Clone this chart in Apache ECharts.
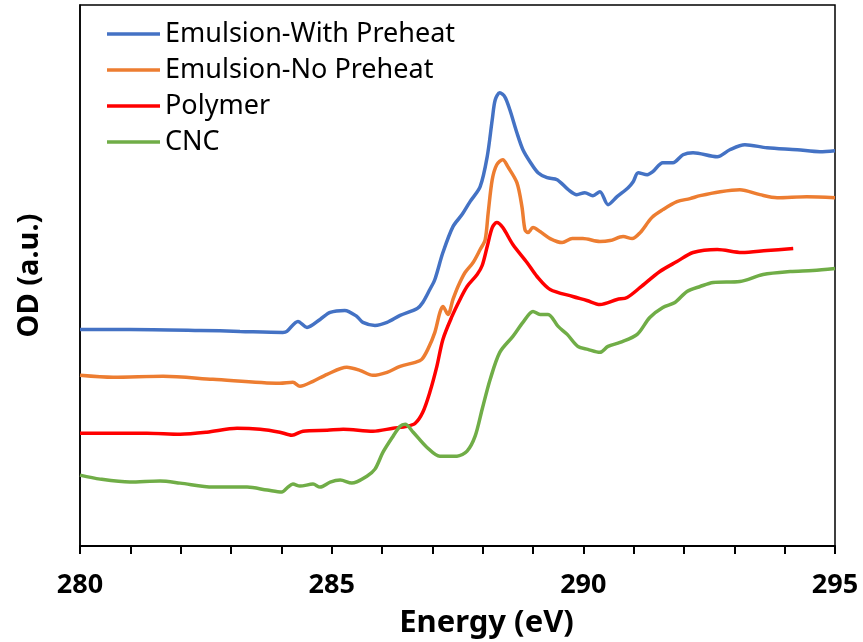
<!DOCTYPE html>
<html><head><meta charset="utf-8">
<script src="https://cdn.jsdelivr.net/npm/echarts@6/dist/echarts.min.js"></script>
<style>html,body{margin:0;padding:0;background:#fff}#c{width:863px;height:642px}</style>
</head><body><div id="c"></div>
<script>
const seriesNames = ['Emulsion-With Preheat', 'Emulsion-No Preheat', 'Polymer', 'CNC'];
const xTicks = [280, 285, 290, 295];

const withPreheat = [
[280.00,2.17],[280.99,2.17],[282.38,2.16],[283.18,2.15],[284.03,2.14],[284.11,2.15],[284.33,2.25],[284.51,2.19],
[284.77,2.27],[284.97,2.34],[285.26,2.36],[285.50,2.30],[285.62,2.24],[285.86,2.21],[286.10,2.24],[286.36,2.31],
[286.70,2.38],[286.81,2.44],[286.95,2.57],[287.05,2.67],[287.21,2.94],[287.41,3.20],[287.59,3.32],[287.75,3.45],
[287.95,3.60],[288.09,3.90],[288.19,4.27],[288.25,4.47],[288.34,4.54],[288.44,4.50],[288.54,4.37],[288.68,4.14],
[288.80,3.97],[288.94,3.85],[289.10,3.74],[289.28,3.69],[289.48,3.67],[289.70,3.57],[289.87,3.52],[290.03,3.54],
[290.19,3.51],[290.33,3.55],[290.49,3.42],[290.67,3.50],[290.89,3.59],[290.99,3.65],[291.09,3.74],[291.27,3.72],
[291.38,3.75],[291.58,3.84],[291.78,3.84],[291.98,3.92],[292.18,3.94],[292.66,3.90],[292.91,3.97],[293.21,4.02],
[293.65,3.99],[294.25,3.97],[294.70,3.95],[295.00,3.96]
];
const noPreheat = [
[280.00,1.71],[280.66,1.69],[281.65,1.70],[282.64,1.67],[283.97,1.63],[284.23,1.64],[284.37,1.60],[284.63,1.65],
[284.91,1.72],[285.30,1.79],[285.56,1.76],[285.82,1.71],[286.10,1.74],[286.36,1.80],[286.66,1.84],[286.79,1.87],
[286.91,1.97],[287.05,2.14],[287.15,2.34],[287.21,2.40],[287.31,2.32],[287.41,2.47],[287.51,2.60],[287.65,2.74],
[287.81,2.84],[287.95,2.97],[288.05,3.07],[288.11,3.34],[288.19,3.67],[288.28,3.82],[288.40,3.87],[288.50,3.80],
[288.68,3.64],[288.78,3.40],[288.84,3.17],[288.90,3.14],[289.00,3.19],[289.14,3.15],[289.34,3.08],[289.58,3.04],
[289.78,3.08],[289.99,3.08],[290.33,3.05],[290.53,3.06],[290.79,3.10],[290.97,3.08],[291.13,3.14],[291.36,3.29],
[291.58,3.37],[291.86,3.45],[292.12,3.48],[292.32,3.51],[292.72,3.55],[293.11,3.57],[293.51,3.52],[293.85,3.49],
[294.44,3.50],[295.00,3.49]
];
const polymer = [
[280.00,1.13],[281.33,1.13],[281.99,1.12],[282.52,1.14],[283.12,1.18],[283.58,1.17],[283.97,1.14],[284.21,1.11],
[284.43,1.15],[284.91,1.16],[285.23,1.17],[285.82,1.15],[286.22,1.18],[286.50,1.20],[286.66,1.23],[286.81,1.34],
[286.95,1.54],[287.09,1.80],[287.21,2.07],[287.39,2.30],[287.55,2.47],[287.69,2.60],[287.89,2.72],[287.99,2.81],
[288.09,3.00],[288.19,3.19],[288.28,3.24],[288.40,3.19],[288.60,3.02],[288.88,2.84],[289.08,2.70],[289.34,2.57],
[289.79,2.50],[290.07,2.46],[290.33,2.42],[290.67,2.47],[290.87,2.49],[291.13,2.59],[291.52,2.75],[291.86,2.85],
[292.18,2.94],[292.66,2.97],[293.15,2.94],[293.65,2.96],[294.17,2.98]
];
const cnc = [
[280.00,0.71],[280.40,0.67],[280.99,0.64],[281.59,0.65],[281.99,0.63],[282.64,0.59],[283.32,0.59],[283.72,0.56],
[284.01,0.54],[284.13,0.59],[284.23,0.62],[284.37,0.60],[284.63,0.62],[284.77,0.59],[284.97,0.64],[285.17,0.66],
[285.40,0.63],[285.70,0.70],[285.86,0.77],[286.02,0.94],[286.22,1.10],[286.36,1.20],[286.46,1.22],[286.62,1.14],
[286.89,0.99],[287.15,0.90],[287.49,0.90],[287.69,0.95],[287.85,1.10],[287.99,1.37],[288.15,1.67],[288.34,1.94],
[288.60,2.10],[288.80,2.24],[289.00,2.35],[289.14,2.32],[289.30,2.32],[289.50,2.20],[289.68,2.12],[289.89,2.00],
[290.09,1.97],[290.33,1.94],[290.49,2.00],[290.73,2.04],[291.07,2.12],[291.32,2.29],[291.58,2.39],[291.82,2.44],
[292.06,2.55],[292.32,2.60],[292.58,2.64],[293.11,2.65],[293.57,2.72],[294.11,2.75],[294.56,2.76],[295.00,2.78]
];

const colors = ['#4472C4', '#ED7D31', '#FF0000', '#70AD47'];
const datasets = [withPreheat, noPreheat, polymer, cnc];

const chart = echarts.init(document.getElementById('c'), null, {renderer: 'canvas'});
chart.setOption({
  animation: false,
  backgroundColor: '#fff',
  grid: {left: 80, right: 28, top: 5, bottom: 96, show: true, borderColor: '#000', borderWidth: 1.5,
    containLabel: false, outerBoundsMode: 'none'},
  legend: {
    orient: 'vertical', left: 107, top: 19, padding: 0,
    icon: 'rect', itemWidth: 53, itemHeight: 3.5, itemGap: 6,
    textStyle: {fontFamily: 'Noto Sans', fontSize: 27, color: '#000', lineHeight: 30},
    data: seriesNames
  },
  xAxis: {
    type: 'value', min: 280, max: 295, interval: 5,
    axisLine: {show: true, lineStyle: {color: '#000', width: 2}},
    axisTick: {show: true, inside: false, length: 8, lineStyle: {color: '#000', width: 2}},
    minorTick: {show: true, splitNumber: 5, length: 8, lineStyle: {color: '#000', width: 2}},
    splitLine: {show: false},
    axisLabel: {fontFamily: 'Noto Sans', fontWeight: 'bold', fontSize: 27, color: '#000', margin: 26,
      formatter: v => xTicks.includes(v) ? String(v) : ''},
    name: 'Energy (eV)', nameLocation: 'middle', nameGap: 62,
    nameTextStyle: {fontFamily: 'Noto Sans', fontWeight: 'bold', fontSize: 31, color: '#000', padding: [0, 0, 0, 58]}
  },
  yAxis: {
    type: 'value', min: 0, max: 5.42,
    axisLine: {show: true, lineStyle: {color: '#000', width: 1.5}},
    axisTick: {show: false}, axisLabel: {show: false}, splitLine: {show: false},
    name: 'OD (a.u.)', nameLocation: 'middle', nameGap: 36, nameRotate: 90,
    nameTextStyle: {fontFamily: 'Noto Sans', fontWeight: 'bold', fontSize: 29, color: '#000'}
  },
  series: seriesNames.map((n, i) => ({
    name: n, type: 'line', data: datasets[i], symbol: 'none', smooth: 0.3,
    lineStyle: {color: colors[i], width: 3.5}, itemStyle: {color: colors[i]}
  }))
});
</script></body></html>
